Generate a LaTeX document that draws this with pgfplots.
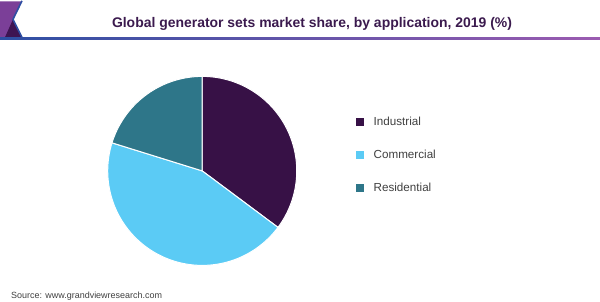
\documentclass[border=0pt]{standalone}
\usepackage{pgfplots}
\pgfplotsset{compat=1.18}
\usepackage{fontspec}
\setmainfont{Liberation Sans}
\definecolor{ind}{HTML}{371146}
\definecolor{com}{HTML}{5BCBF5}
\definecolor{res}{HTML}{2E7689}
\definecolor{titlec}{HTML}{3B1A4E}
\definecolor{hpurple}{HTML}{7B3F98}
\definecolor{hdark}{HTML}{3E1452}
\definecolor{hblue}{HTML}{2E4FA3}
\definecolor{lpurple}{HTML}{9B5BB0}
\definecolor{txt}{HTML}{404040}
% shares (%)
\def\sInd{35.2}
\def\sCom{44.6}
\def\sRes{20.2}
\begin{document}
\begin{tikzpicture}[x=1bp,y=1bp]
\path (0,0) rectangle (600,300);
% header decoration
\fill[hpurple] (0,300) -- (22,300) -- (13,282) -- (22,264) -- (0,264) -- cycle;
\fill[hdark] (13,282) -- (22,264) -- (5,264) -- cycle;
\draw[hblue, line width=1.6bp] (22,300.5) -- (13,282) -- (22,264);
\shade[left color=hblue, right color=lpurple] (0,262) rectangle (600,264.2);
\node[font=\fontsize{14}{16}\selectfont\bfseries, text=titlec] at (312,277.5) {Global generator sets market share, by application, 2019 (\%)};
\node[font=\fontsize{9}{11}\selectfont, text=txt, anchor=base west, inner sep=0] at (11,3) {Source: www.grandviewresearch.com};
\pgfmathsetmacro{\aA}{90}
\pgfmathsetmacro{\aB}{90-3.6*\sInd}
\pgfmathsetmacro{\aC}{\aB-3.6*\sCom}
\pgfmathsetmacro{\aD}{\aC-3.6*\sRes}
\begin{axis}[at={(214,138)}, anchor=center, width=189bp, height=189bp, scale only axis,
  xmin=-1, xmax=1, ymin=-1, ymax=1, hide axis, clip=false,
  legend style={at={(1.295,0.805)}, anchor=north west, draw=none, fill=none,
    font=\fontsize{11.7}{14}\selectfont, text=txt, row sep=19bp},
  legend cell align=left,
  legend image code/.code={\path[#1,draw=none] (0bp,-4bp) rectangle (8bp,4bp); \path[draw=none,fill=none] (0bp,0bp) -- (16bp,0bp);}]
\addplot[fill=ind, draw=white, line width=1bp, domain=\aA:\aB, samples=120] ({cos(x)},{sin(x)}) -- (0,0) -- cycle;
\addlegendentry{Industrial}
\addplot[fill=com, draw=white, line width=1bp, domain=\aB:\aC, samples=150] ({cos(x)},{sin(x)}) -- (0,0) -- cycle;
\addlegendentry{Commercial}
\addplot[fill=res, draw=white, line width=1bp, domain=\aC:\aD, samples=80] ({cos(x)},{sin(x)}) -- (0,0) -- cycle;
\addlegendentry{Residential}
\end{axis}
\end{tikzpicture}
\end{document}
